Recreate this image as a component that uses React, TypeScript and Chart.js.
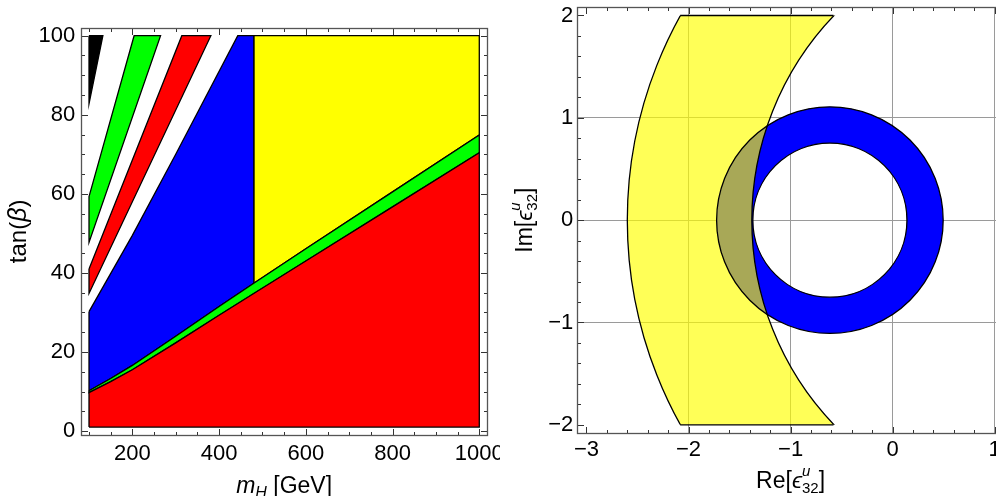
import React, { useEffect, useRef } from 'react';
import { Chart, registerables } from 'chart.js';

Chart.register(...registerables);

const FONT = '"Liberation Sans", Arial, "DejaVu Sans", sans-serif';
const TEXT = '#000000';
const FRAME = '#555555';
const GRID = '#9a9a9a';
const EDGE = 1.3;

// ---------------- Left panel: m_H [GeV] vs tan(beta) ----------------
const mHGrid = [100, 150, 200, 300, 400, 480, 600, 800, 1000];
const redUpper = [9.7, 12.5, 15.5, 22.3, 29.3, 34.8, 43.0, 56.7, 70.4];
const greenUpper = [10.2, 13.3, 16.6, 24.0, 31.5, 37.4, 46.1, 60.5, 74.9];
const tanBetaFloor = 1;
const tanBetaCeil = 100;
const yellowStartMH = 480;
const blueEdgeMH = [100, 200, 300, 443];
const blueEdgeTB = [30.2, 49.5, 70.0, 100];
const redStripMH = [100, 314, 381, 100];
const redStripTB = [41.0, 100, 100, 34.8];
const greenStripMH = [100, 204, 265, 100];
const greenStripTB = [59.3, 100, 100, 47.7];
const blackStripMH = [100, 132, 100];
const blackStripTB = [100, 100, 82.8];
const leftXTicks = [200, 400, 600, 800, 1000];
const leftYTicks = [0, 20, 40, 60, 80, 100];
const leftXRange = [82, 1018];
const leftYRange = [-1, 102];

// ---------------- Right panel: Re vs Im of epsilon^u_32 ----------------
const ringCenter = [-0.615, 0];
const ringRadii = [1.11, 0.755]; // outer, inner
const bandCenter = [1.52, 0];
const bandRadii = [4.12, 2.9]; // outer, inner
const bandImLimits = [-2, 2];
const bandCapRe = [-2.082, -0.58];
const rightXTicks = [-3, -2, -1, 0, 1];
const rightYTicks = [-2, -1, 0, 1, 2];
const rightXGrid = [-2, -1, 0, 1];
const rightYGrid = [-1, 0, 1];
const rightXRange = [-3.09, 1.09];
const rightYRange = [-2.08, 2.08];

type P = { x: number; y: number };
const zip = (xs: number[], ys: number[]): P[] => xs.map((x, i) => ({ x, y: ys[i] }));
const closeLoop = (p: P[]): P[] => [...p, p[0]];

function region(label: string, data: P[], color: string) {
  return {
    label,
    data,
    type: 'line',
    fill: 'shape',
    backgroundColor: color,
    borderColor: '#000000',
    borderWidth: EDGE,
    pointRadius: 0,
    tension: 0,
    order: 1,
  };
}

function leftDatasets() {
  const red = zip(mHGrid, redUpper);
  const green = zip(mHGrid, greenUpper);
  const mMin = mHGrid[0];
  const mMax = mHGrid[mHGrid.length - 1];
  const redPoly = closeLoop([
    { x: mMin, y: tanBetaFloor },
    { x: mMax, y: tanBetaFloor },
    ...red.slice().reverse(),
  ]);
  const bandPoly = closeLoop([...green, ...red.slice().reverse()]);
  const bluePoly = closeLoop([
    ...zip(blueEdgeMH, blueEdgeTB),
    { x: yellowStartMH, y: tanBetaCeil },
    ...green.filter((p) => p.x <= yellowStartMH).reverse(),
  ]);
  const yellowPoly = closeLoop([
    { x: yellowStartMH, y: tanBetaCeil },
    { x: mMax, y: tanBetaCeil },
    ...green.filter((p) => p.x >= yellowStartMH).reverse(),
  ]);
  return [
    region('red', redPoly, '#ff0000'),
    region('green band', bandPoly, '#00ff00'),
    region('blue', bluePoly, '#0000ff'),
    region('yellow', yellowPoly, '#ffff00'),
    region('red strip', closeLoop(zip(redStripMH, redStripTB)), '#ff0000'),
    region('green strip', closeLoop(zip(greenStripMH, greenStripTB)), '#00ff00'),
    region('black strip', closeLoop(zip(blackStripMH, blackStripTB)), '#000000'),
  ];
}

const radiusPx = (chart: any, cx: number, r: number) =>
  Math.abs(chart.scales.x.getPixelForValue(cx + r) - chart.scales.x.getPixelForValue(cx));

function annulus(label: string, center: number[], radii: number[], color: string, order: number, clipY?: number[]) {
  const mid = (radii[0] + radii[1]) / 2;
  const thick = Math.abs(radii[0] - radii[1]);
  return {
    label,
    type: 'line',
    showLine: false,
    data: [{ x: center[0], y: center[1] }],
    pointStyle: 'circle',
    pointRadius: (c: any) => radiusPx(c.chart, center[0], mid),
    pointBorderWidth: (c: any) => radiusPx(c.chart, center[0], thick),
    pointBackgroundColor: 'rgba(0,0,0,0)',
    pointBorderColor: color,
    clip: 0,
    order,
    clipY,
  };
}

function outline(label: string, center: number[], r: number, order: number, clipY?: number[]) {
  return {
    label,
    type: 'line',
    showLine: false,
    data: [{ x: center[0], y: center[1] }],
    pointStyle: 'circle',
    pointRadius: (c: any) => radiusPx(c.chart, center[0], r),
    pointBorderWidth: EDGE,
    pointBackgroundColor: 'rgba(0,0,0,0)',
    pointBorderColor: '#000000',
    clip: 0,
    order,
    clipY,
  };
}

function capLine(label: string, im: number) {
  return {
    label,
    type: 'line',
    data: [
      { x: bandCapRe[0], y: im },
      { x: bandCapRe[1], y: im },
    ],
    borderColor: '#000000',
    borderWidth: EDGE,
    pointRadius: 0,
    fill: false,
    order: 2,
  };
}

function rightDatasets() {
  return [
    annulus('blue ring', ringCenter, ringRadii, '#0000ff', 6),
    annulus('yellow band', bandCenter, bandRadii, 'rgba(255,255,0,0.66)', 5, bandImLimits),
    outline('band outer', bandCenter, bandRadii[0], 3, bandImLimits),
    outline('band inner', bandCenter, bandRadii[1], 3, bandImLimits),
    capLine('band top', bandImLimits[1]),
    capLine('band bottom', bandImLimits[0]),
    outline('ring outer', ringCenter, ringRadii[0], 2),
    outline('ring inner', ringCenter, ringRadii[1], 2),
  ];
}

const clipYPlugin = {
  id: 'clipY',
  beforeDatasetDraw(chart: any, args: any) {
    const ds = chart.data.datasets[args.index];
    if (!ds.clipY) return;
    const a = chart.chartArea;
    const top = chart.scales.y.getPixelForValue(ds.clipY[1]);
    const bot = chart.scales.y.getPixelForValue(ds.clipY[0]);
    chart.ctx.save();
    chart.ctx.beginPath();
    chart.ctx.rect(a.left, top, a.right - a.left, bot - top);
    chart.ctx.clip();
  },
  afterDatasetDraw(chart: any, args: any) {
    const ds = chart.data.datasets[args.index];
    if (ds.clipY) chart.ctx.restore();
  },
};

type Minor = { from: number; to: number; step: number };

function framePlugin(xMajor: number[], yMajor: number[], xMinor: Minor, yMinor: Minor) {
  return {
    id: 'frameTicks',
    afterDraw(chart: any) {
      const { ctx, chartArea: a } = chart;
      const xs = chart.scales.x;
      const ys = chart.scales.y;
      const L = Math.round(a.left) + 0.5;
      const R = Math.round(a.right) + 0.5;
      const T = Math.round(a.top) + 0.5;
      const B = Math.round(a.bottom) + 0.5;
      ctx.save();
      ctx.strokeStyle = '#333';
      ctx.lineWidth = 1;
      const xt = (v: number, len: number) => {
        const p = Math.round(xs.getPixelForValue(v)) + 0.5;
        if (p < a.left - 0.5 || p > a.right + 0.5) return;
        ctx.beginPath();
        ctx.moveTo(p, B);
        ctx.lineTo(p, B - len);
        ctx.moveTo(p, T);
        ctx.lineTo(p, T + len);
        ctx.stroke();
      };
      const yt = (v: number, len: number) => {
        const p = Math.round(ys.getPixelForValue(v)) + 0.5;
        if (p < a.top - 0.5 || p > a.bottom + 0.5) return;
        ctx.beginPath();
        ctx.moveTo(L, p);
        ctx.lineTo(L + len, p);
        ctx.moveTo(R, p);
        ctx.lineTo(R - len, p);
        ctx.stroke();
      };
      const minors = (m: Minor, majors: number[]) => {
        const out: number[] = [];
        const n = Math.round((m.to - m.from) / m.step);
        for (let i = 0; i <= n; i++) {
          const v = +(m.from + i * m.step).toFixed(6);
          if (!majors.some((q) => Math.abs(q - v) < 1e-6)) out.push(v);
        }
        return out;
      };
      minors(xMinor, xMajor).forEach((v) => xt(v, 3.5));
      minors(yMinor, yMajor).forEach((v) => yt(v, 3.5));
      xMajor.forEach((v) => xt(v, 6.5));
      yMajor.forEach((v) => yt(v, 6.5));
      ctx.strokeStyle = FRAME;
      ctx.lineWidth = 1.3;
      ctx.strokeRect(L, T, R - L, B - T);
      ctx.restore();
    },
  };
}

type Part = { t: string; it?: boolean; sz?: number; dy?: number; hold?: boolean };
const fontOf = (p: Part) => `${p.it ? 'italic ' : ''}${p.sz ?? 23}px ${FONT}`;

function drawRich(ctx: CanvasRenderingContext2D, parts: Part[], x: number, y: number, rot: number) {
  ctx.save();
  ctx.translate(x, y);
  if (rot) ctx.rotate(rot);
  ctx.fillStyle = TEXT;
  ctx.textBaseline = 'alphabetic';
  ctx.textAlign = 'left';
  const ws: number[] = [];
  let total = 0;
  parts.forEach((p) => {
    ctx.font = fontOf(p);
    const w = ctx.measureText(p.t).width;
    ws.push(w);
    if (!p.hold) total += w;
  });
  let cx = -total / 2;
  parts.forEach((p, i) => {
    ctx.font = fontOf(p);
    ctx.fillText(p.t, cx, p.dy ?? 0);
    if (!p.hold) cx += ws[i];
  });
  ctx.restore();
}

function titlePlugin(xParts: Part[], xBelow: number, yParts: Part[], yBaseX: number) {
  return {
    id: 'richTitles',
    afterDraw(chart: any) {
      const a = chart.chartArea;
      drawRich(chart.ctx, xParts, (a.left + a.right) / 2, a.bottom + xBelow, 0);
      drawRich(chart.ctx, yParts, yBaseX, (a.top + a.bottom) / 2, -Math.PI / 2);
    },
  };
}

const fmt = (v: number) => (v < 0 ? '\u2212' + Math.abs(v) : String(v));

function axis(range: number[], ticks: number[], pad: number, horizontal: boolean, size: number, gridList?: number[]) {
  return {
    type: 'linear',
    min: range[0],
    max: range[1],
    grid: gridList
      ? {
          display: true,
          drawTicks: false,
          drawOnChartArea: true,
          lineWidth: 1,
          color: (c: any) => (c.tick && gridList.includes(c.tick.value) ? GRID : 'rgba(0,0,0,0)'),
        }
      : { display: false, drawTicks: false },
    border: { display: false },
    afterBuildTicks: (s: any) => {
      s.ticks = ticks.map((v) => ({ value: v }));
    },
    afterFit: (s: any) => {
      if (horizontal) s.height = size;
      else s.width = size;
      s.paddingLeft = 0;
      s.paddingRight = 0;
      s.paddingTop = 0;
      s.paddingBottom = 0;
    },
    ticks: {
      font: { family: FONT, size: 22 },
      color: TEXT,
      padding: pad,
      maxRotation: 0,
      minRotation: 0,
      autoSkip: false,
      callback: (v: any) => fmt(Number(v)),
    },
  };
}

function leftConfig(): any {
  return {
    type: 'line',
    data: { datasets: leftDatasets() },
    options: {
      responsive: false,
      animation: false,
      events: [],
      layout: { padding: { left: 0, top: 27.8, right: 530 - 487.1, bottom: 0 } },
      plugins: { legend: { display: false }, tooltip: { enabled: false } },
      scales: {
        x: axis(leftXRange, leftXTicks, 6, true, 61),
        y: axis(leftYRange, leftYTicks, 6, false, 81.2),
      },
    },
    plugins: [
      framePlugin(leftXTicks, leftYTicks, { from: 100, to: 1000, step: 50 }, { from: 0, to: 100, step: 5 }),
      titlePlugin(
        [{ t: 'm', it: true }, { t: 'H', it: true, sz: 16, dy: 5 }, { t: ' [GeV]' }],
        58.3,
        [{ t: 'tan(', sz: 24 }, { t: '\u03b2', it: true, sz: 25 }, { t: ')', sz: 24 }],
        26
      ),
    ],
  };
}

function rightConfig(): any {
  return {
    type: 'line',
    data: { datasets: rightDatasets() },
    options: {
      responsive: false,
      animation: false,
      events: [],
      layout: { padding: { left: 0, top: 7.3, right: 530 - 503.9, bottom: 0 } },
      plugins: { legend: { display: false }, tooltip: { enabled: false } },
      scales: {
        x: axis(rightXRange, rightXTicks, 4, true, 63, rightXGrid),
        y: axis(rightYRange, rightYTicks, 4, false, 77.3, rightYGrid),
      },
    },
    plugins: [
      clipYPlugin,
      framePlugin(rightXTicks, rightYTicks, { from: -3, to: 1, step: 0.2 }, { from: -2, to: 2, step: 0.2 }),
      titlePlugin(
        [
          { t: 'Re[' },
          { t: '\u03f5', it: true },
          { t: 'u', it: true, sz: 15, dy: -12, hold: true },
          { t: '32', sz: 15, dy: 5 },
          { t: ']' },
        ],
        55.3,
        [
          { t: 'Im[' },
          { t: '\u03f5', it: true },
          { t: 'u', it: true, sz: 15, dy: -12, hold: true },
          { t: '32', sz: 15, dy: 5 },
          { t: ']' },
        ],
        32
      ),
    ],
  };
}

export default function App() {
  const leftRef = useRef<HTMLCanvasElement>(null);
  const rightRef = useRef<HTMLCanvasElement>(null);
  useEffect(() => {
    const c1 = new Chart(leftRef.current as HTMLCanvasElement, leftConfig());
    const c2 = new Chart(rightRef.current as HTMLCanvasElement, rightConfig());
    return () => {
      c1.destroy();
      c2.destroy();
    };
  }, []);
  return (
    <div style={{ position: 'fixed', left: 0, top: 0, width: 996, height: 496, overflow: 'hidden', background: '#fff' }}>
      <div style={{ position: 'absolute', left: 0, top: 0, width: 500, height: 496, overflow: 'hidden' }}>
        <canvas ref={leftRef} width={530} height={496} style={{ width: 530, height: 496, display: 'block' }} />
      </div>
      <div style={{ position: 'absolute', left: 500, top: 0, width: 496, height: 496, overflow: 'hidden' }}>
        <canvas ref={rightRef} width={530} height={496} style={{ width: 530, height: 496, display: 'block' }} />
      </div>
    </div>
  );
}
